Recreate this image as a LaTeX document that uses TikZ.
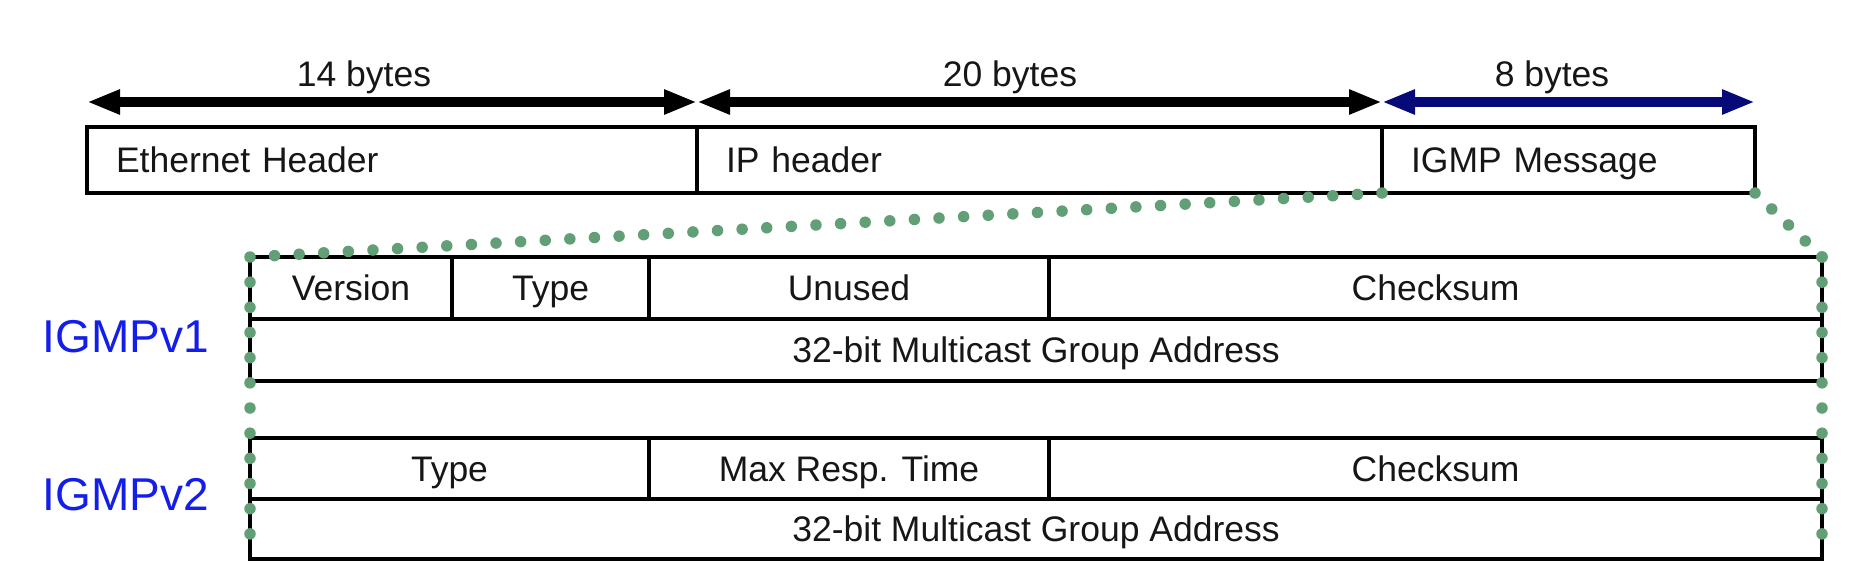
\documentclass[tikz,border=0pt]{standalone}
\usepackage{fontspec}
\setmainfont{Liberation Sans}
\usetikzlibrary{arrows.meta}
\definecolor{dotgreen}{RGB}{98,158,118}
\definecolor{navyarrow}{RGB}{6,10,120}
\definecolor{labelblue}{RGB}{20,30,235}
\definecolor{txt}{RGB}{22,22,22}
\begin{document}
\begin{tikzpicture}[x=1pt,y=-1pt,
  boxline/.style={draw=black,line width=4.5pt,outer sep=0pt},
  hdrbox/.style={boxline,rectangle,anchor=north west,minimum height=66pt,
    inner xsep=29pt,inner ysep=0pt,align=left,text=txt,
    font=\fontsize{35.5}{40}\selectfont,text height=25.4pt,text depth=0pt},
  cell/.style={boxline,rectangle,anchor=north west,inner sep=0pt,text=txt,
    font=\fontsize{35.5}{40}\selectfont,text height=25.4pt,text depth=0pt},
  dimarrow/.style={line width=10pt,
    {Triangle[length=33pt,width=23pt]}-{Triangle[length=33pt,width=23pt]}},
  bytelbl/.style={anchor=base,inner sep=0pt,text=txt,font=\fontsize{35.5}{40}\selectfont},
  verlbl/.style={inner sep=0pt,text=labelblue,font=\fontsize{46}{50}\selectfont,
    text height=32.9pt,text depth=0pt},
  dotline/.style={dotgreen,line width=11.5pt,line cap=round,dash pattern=on 0pt off #1},
]
\useasboundingbox (0,0) rectangle (1874,586);

% top header boxes
\node[hdrbox,text width=552pt] (eth) at (87,127) {Ethernet Header};
\node[hdrbox,text width=627pt] (ip) at (697,127) {IP header};
\node[hdrbox,text width=315pt] (igmp) at (1382,127) {IGMP Message};

% size arrows
\draw[dimarrow] ([yshift=25pt]eth.north west) -- ([yshift=25pt]eth.north east);
\draw[dimarrow] ([yshift=25pt]ip.north west) -- ([yshift=25pt]ip.north east);
\draw[dimarrow,navyarrow] ([yshift=25pt]igmp.north west) -- ([yshift=25pt]igmp.north east);

\node[bytelbl] (b14) at (364,86) {14 bytes};
\node[bytelbl] (b20) at (1010,86) {20 bytes};
\node[bytelbl] (b8) at (1552,86) {8 bytes};

% IGMPv1
\node[cell,minimum width=202pt,minimum height=62pt] (ver) at (250,257) {Version};
\node[cell,minimum width=197pt,minimum height=62pt] (typeA) at (452,257) {Type};
\node[cell,minimum width=400pt,minimum height=62pt] (unused) at (649,257) {Unused};
\node[cell,minimum width=773pt,minimum height=62pt] (cksA) at (1049,257) {Checksum};
\node[cell,minimum width=1572pt,minimum height=62pt] (addrA) at (250,319) {32-bit Multicast Group Address};

% IGMPv2
\node[cell,minimum width=399pt,minimum height=61pt] (typeB) at (250,438) {Type};
\node[cell,minimum width=400pt,minimum height=61pt] (maxresp) at (649,438) {Max Resp. Time};
\node[cell,minimum width=773pt,minimum height=61pt] (cksB) at (1049,438) {Checksum};
\node[cell,minimum width=1572pt,minimum height=60pt] (addrB) at (250,499) {32-bit Multicast Group Address};

% version labels
\node[verlbl] (v1) at (126,336) {IGMPv1};
\node[verlbl] (v2) at (126,494) {IGMPv2};

% dotted zoom lines
\draw[dotline=24.65pt] (igmp.south west) -- (ver.north west);
\draw[dotline=25.17pt] (ver.north west) -- (addrB.south west);
\draw[dotline=23.15pt] (igmp.south east) -- (cksA.north east);
\draw[dotline=25.17pt] (cksA.north east) -- (addrB.south east);
\end{tikzpicture}
\end{document}
